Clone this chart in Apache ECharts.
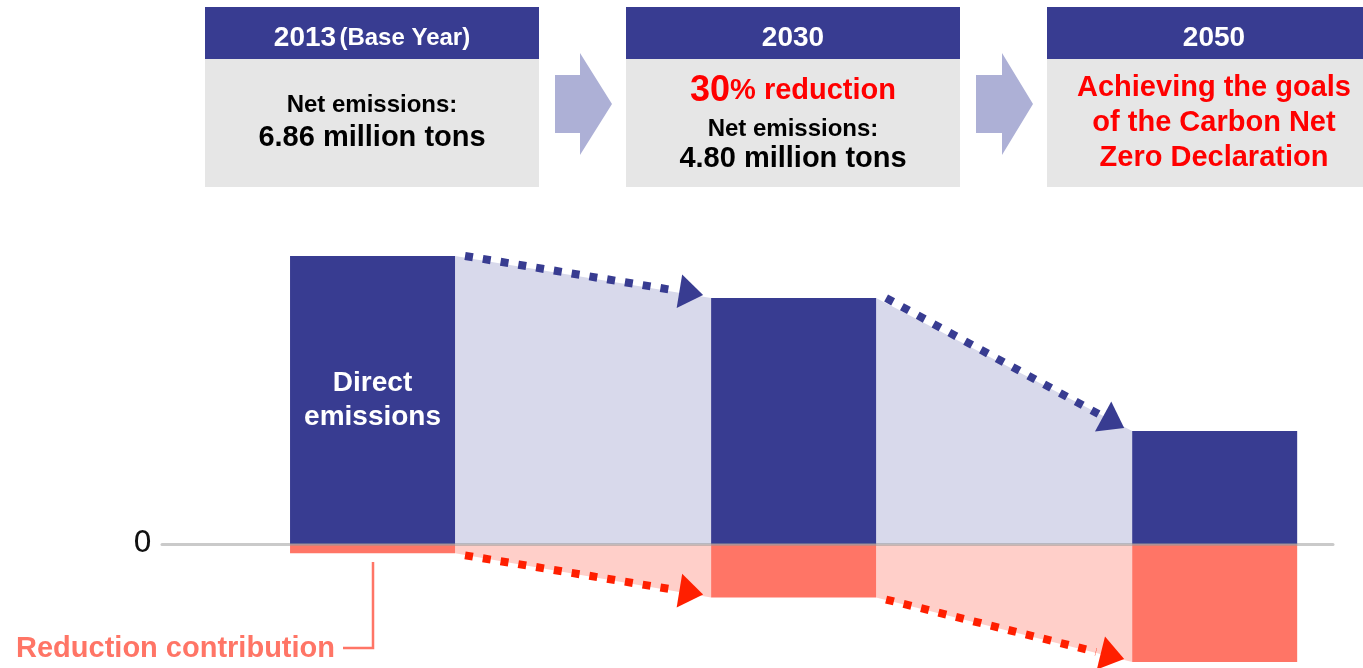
<!DOCTYPE html>
<html><head><meta charset="utf-8">
<script src="https://cdn.jsdelivr.net/npm/echarts@6/dist/echarts.min.js"></script>
<style>html,body{margin:0;padding:0;background:#fff}#c{width:1363px;height:668px}</style>
</head><body><div id="c"></div>
<script>
// ---- data ----
const categories = ['2013', '2030', '2050'];
const directEmissions = [6.86, 5.86, 2.70];          // above zero
const reductionContribution = [-0.21, -1.26, -2.79]; // below zero
const yTickLabels = ['0'];
const headerYears = ['2013', '2030', '2050'];
const baseYearNote = '(Base Year)';
const netLabel = 'Net emissions:';
const netValues = ['6.86 million tons', '4.80 million tons'];
const reductionTarget = ['30', '% reduction'];
const goalLines = ['Achieving the goals', 'of the Carbon Net', 'Zero Declaration'];
const barLabelText = 'Direct\nemissions';
const reductionLabelText = 'Reduction contribution';

// ---- styles ----
const NAVY = '#383c91', SALMON = '#ff7566', LAV = '#d8d9eb', PINK = '#ffcfc9';
const ARROW_RED = '#ff1f00', GREY_BOX = '#e6e6e6', CHEV = '#adb0d6';
const FONT = '"Liberation Sans", Arial, sans-serif';
const BAR_W = 165, HALF = BAR_W / 2;

const segData = [];
for (let i = 0; i < categories.length - 1; i++) {
  segData.push([i, directEmissions[i], directEmissions[i + 1], reductionContribution[i], reductionContribution[i + 1]]);
}

function shadeItem(params, api) {
  const i = api.value(0);
  const children = [];
  [[api.value(1), api.value(2), LAV], [api.value(3), api.value(4), PINK]].forEach(([a, b, col]) => {
    const p0 = api.coord([i, a]), p1 = api.coord([i + 1, b]);
    const z0 = api.coord([i, 0]), z1 = api.coord([i + 1, 0]);
    children.push({
      type: 'polygon',
      shape: { points: [[p0[0] + HALF, p0[1]], [p1[0] - HALF, p1[1]], [z1[0] - HALF, z1[1]], [z0[0] + HALF, z0[1]]] },
      style: { fill: col }
    });
  });
  return { type: 'group', children };
}

function arrowItem(params, api) {
  const i = api.value(0);
  const children = [];
  [[api.value(1), api.value(2), NAVY, -1], [api.value(3), api.value(4), ARROW_RED, 1]].forEach(([a, b, col, s]) => {
    const p0 = api.coord([i, a]), p1 = api.coord([i + 1, b]);
    const S = [p0[0] + HALF + 10, p0[1] + (s > 0 ? 2 : 0)];
    const T = [p1[0] - HALF - 8, p1[1] - 3];
    const dx = T[0] - S[0], dy = T[1] - S[1];
    const L = Math.hypot(dx, dy);
    const d = [dx / L, dy / L], n = [-d[1], d[0]];
    const headLen = 24, headHalf = 17;
    const B = [T[0] - headLen * d[0], T[1] - headLen * d[1]];
    const E = [T[0] - (headLen + 5) * d[0], T[1] - (headLen + 5) * d[1]];
    children.push({
      type: 'line',
      shape: { x1: S[0], y1: S[1], x2: E[0], y2: E[1] },
      style: { stroke: col, lineWidth: 8, lineDash: [8, 10], lineCap: 'butt', fill: null }
    });
    children.push({
      type: 'polygon',
      shape: { points: [T, [B[0] + headHalf * n[0], B[1] + headHalf * n[1]], [B[0] - headHalf * n[0], B[1] - headHalf * n[1]]] },
      style: { fill: col }
    });
  });
  return { type: 'group', children };
}

// ---- header graphics ----
const boxes = [205, 626, 1047];
const BOX_W = 334;
const graphics = [];
boxes.forEach((x) => {
  graphics.push({ type: 'rect', shape: { x: x, y: 7, width: BOX_W, height: 52 }, style: { fill: NAVY } });
  graphics.push({ type: 'rect', shape: { x: x, y: 59, width: BOX_W, height: 128 }, style: { fill: GREY_BOX } });
});
const cx = boxes.map(x => x + BOX_W / 2);
graphics.push({
  type: 'text', x: cx[0], y: 38,
  style: {
    text: '{a|' + headerYears[0] + '} {b|' + baseYearNote + '}', textAlign: 'center', textVerticalAlign: 'middle',
    rich: {
      a: { fill: '#fff', font: 'bold 28px ' + FONT },
      b: { fill: '#fff', font: 'bold 24px ' + FONT }
    }
  }
});
graphics.push({ type: 'text', x: cx[1], y: 38, style: { text: headerYears[1], fill: '#fff', font: 'bold 28px ' + FONT, textAlign: 'center', textVerticalAlign: 'middle' } });
graphics.push({ type: 'text', x: cx[2], y: 38, style: { text: headerYears[2], fill: '#fff', font: 'bold 28px ' + FONT, textAlign: 'center', textVerticalAlign: 'middle' } });
// box 1
graphics.push({ type: 'text', x: cx[0], y: 105, style: { text: netLabel, fill: '#000', font: 'bold 24px ' + FONT, textAlign: 'center', textVerticalAlign: 'middle' } });
graphics.push({ type: 'text', x: cx[0], y: 138, style: { text: netValues[0], fill: '#000', font: 'bold 29px ' + FONT, textAlign: 'center', textVerticalAlign: 'middle' } });
// box 2
graphics.push({
  type: 'text', x: cx[1], y: 91,
  style: {
    text: '{a|' + reductionTarget[0] + '}{b|' + reductionTarget[1] + '}', textAlign: 'center', textVerticalAlign: 'middle',
    rich: {
      a: { fill: '#ff0000', font: 'bold 36px ' + FONT },
      b: { fill: '#ff0000', font: 'bold 29px ' + FONT }
    }
  }
});
graphics.push({ type: 'text', x: cx[1], y: 129, style: { text: netLabel, fill: '#000', font: 'bold 24px ' + FONT, textAlign: 'center', textVerticalAlign: 'middle' } });
graphics.push({ type: 'text', x: cx[1], y: 159, style: { text: netValues[1], fill: '#000', font: 'bold 29px ' + FONT, textAlign: 'center', textVerticalAlign: 'middle' } });
// box 3
goalLines.forEach((t, j) => {
  graphics.push({ type: 'text', x: cx[2], y: 88 + j * 35, style: { text: t, fill: '#ff0000', font: 'bold 29px ' + FONT, textAlign: 'center', textVerticalAlign: 'middle' } });
});
// chevrons
[[555, 580, 612], [976, 1002, 1033]].forEach(([a, b, c]) => {
  graphics.push({ type: 'polygon', shape: { points: [[a, 75], [b, 75], [b, 53], [c, 104], [b, 155], [b, 133], [a, 133]] }, style: { fill: CHEV } });
});
// reduction contribution callout
graphics.push({ type: 'polyline', shape: { points: [[373, 562], [373, 648], [343, 648]] }, style: { stroke: SALMON, lineWidth: 2.5, fill: null } });
graphics.push({ type: 'text', x: 335, y: 649, style: { text: reductionLabelText, fill: SALMON, font: 'bold 29px ' + FONT, textAlign: 'right', textVerticalAlign: 'middle' } });

const chart = echarts.init(document.getElementById('c'), null, { renderer: 'canvas' });
chart.setOption({
  animation: false,
  backgroundColor: '#fff',
  grid: { left: 162, right: 30, top: 250.1, height: 412.2 },
  xAxis: {
    type: 'value', min: -0.5, max: 2.281, z: 5,
    axisLine: { show: true, onZero: true, lineStyle: { color: 'rgba(150,150,150,0.5)', width: 3 } },
    axisTick: { show: false }, axisLabel: { show: false }, splitLine: { show: false }
  },
  yAxis: {
    type: 'value', min: -2.8, max: 7, interval: 0.2,
    axisLine: { show: false }, axisTick: { show: false }, splitLine: { show: false },
    axisLabel: {
      margin: 10, fontSize: 30, color: '#111', fontFamily: '"DejaVu Sans", sans-serif',
      padding: [7, 0, 0, 0],
      formatter: v => (Math.abs(v) < 1e-9 ? yTickLabels[0] : '')
    }
  },
  series: [
    { type: 'custom', name: 'shade', renderItem: shadeItem, data: segData, z: 1, silent: true },
    {
      type: 'bar', name: 'Direct emissions', stack: 'total', barWidth: BAR_W, z: 2,
      itemStyle: { color: NAVY },
      data: directEmissions.map((v, i) => i === 0 ? {
        value: [i, v],
        label: { show: true, position: 'inside', formatter: barLabelText, color: '#fff', fontSize: 28, fontWeight: 'bold', lineHeight: 34, fontFamily: FONT }
      } : { value: [i, v] })
    },
    {
      type: 'bar', name: 'Reduction contribution', stack: 'total', barWidth: BAR_W, z: 2,
      itemStyle: { color: SALMON },
      data: reductionContribution.map((v, i) => [i, v])
    },
    { type: 'custom', name: 'arrows', renderItem: arrowItem, data: segData, z: 4, silent: true }
  ],
  graphic: graphics
});
</script></body></html>
